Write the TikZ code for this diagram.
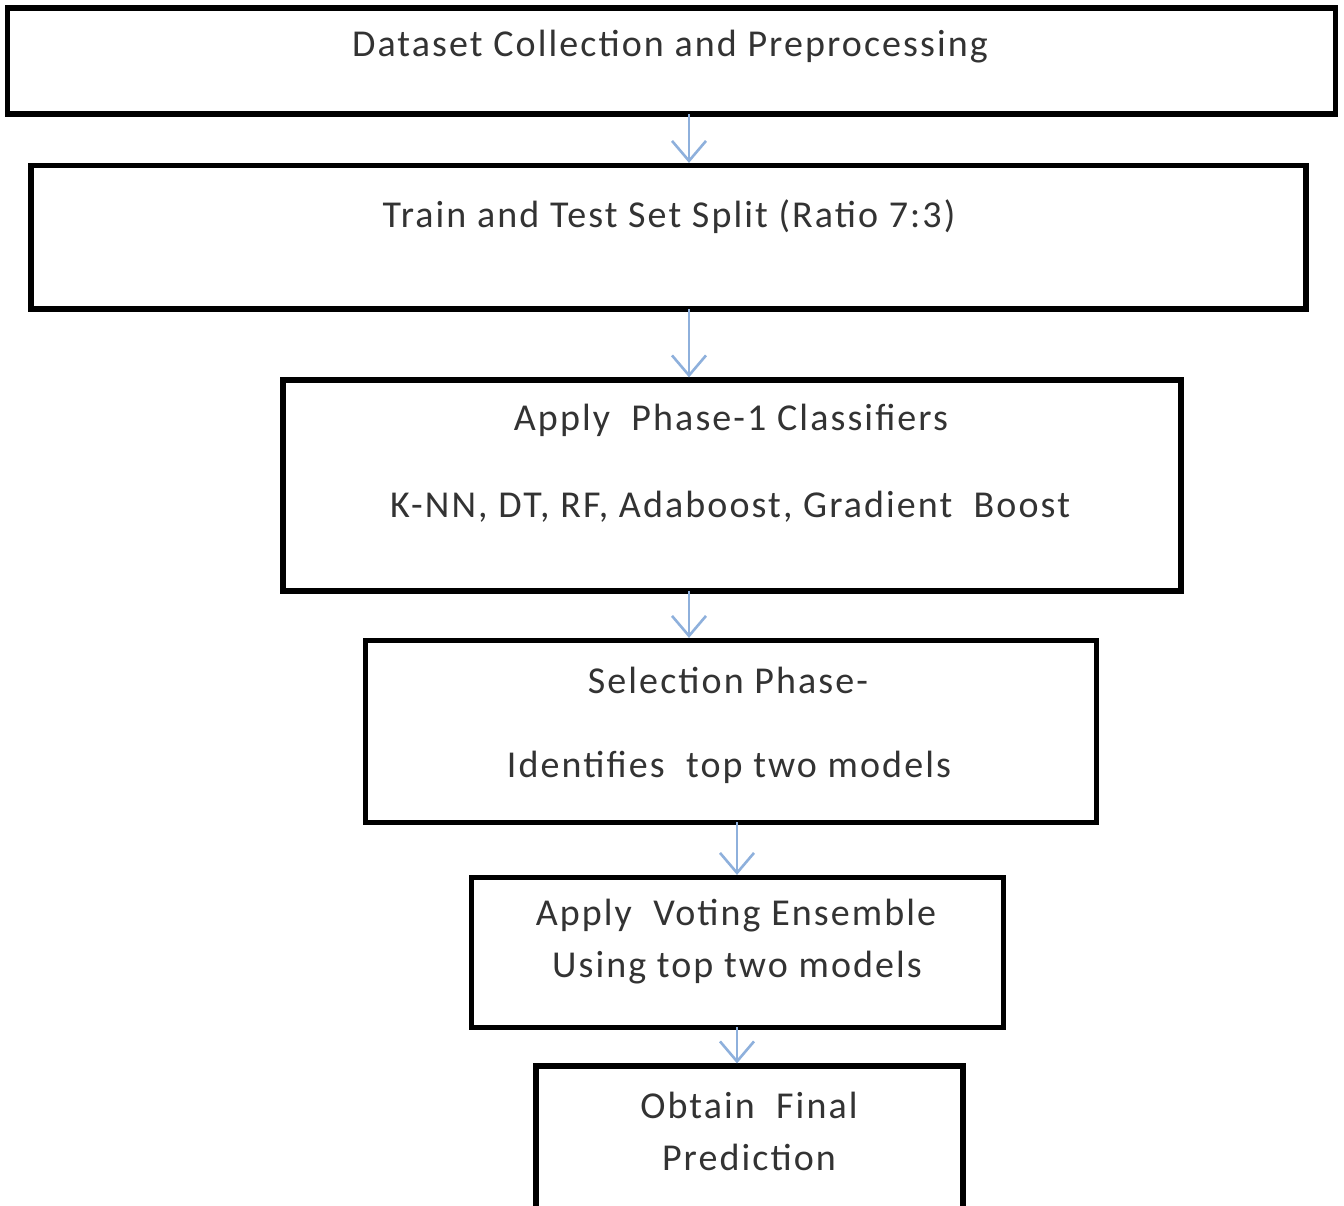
\documentclass[tikz,border=0pt]{standalone}
\usepackage{fontspec}
\setmainfont{Carlito}
\usetikzlibrary{arrows.meta}
\definecolor{txt}{HTML}{333333}
\definecolor{arr}{HTML}{8EB0DC}
\newfontfamily\boxfont[LetterSpace=5.5]{Carlito}
\tikzset{
  stepbox/.style={draw=black, line width=2.6pt, fill=white, inner sep=0pt},
  label text/.style={text=txt, font=\boxfont\fontsize{19pt}{23pt}\selectfont, inner sep=0pt, anchor=center},
  flow/.style={draw=arr, line width=1.3pt, -{Straight Barb[length=10pt,width=17pt,line width=1.3pt]}}
}
\begin{document}
\begin{tikzpicture}[x=0.5pt,y=-0.5pt]
\useasboundingbox (0,0) rectangle (1344,1205);
\fill[white] (0,0) rectangle (1344,1205);
% boxes
\node[stepbox, minimum width=1328*0.5pt, minimum height=106*0.5pt] (b1) at (671.5,61) {};
\node[stepbox, minimum width=1275*0.5pt, minimum height=143.5*0.5pt] (b2) at (668.5,237.25) {};
\node[stepbox, minimum width=898*0.5pt, minimum height=211*0.5pt] (b3) at (732,485.5) {};
\node[stepbox, minimum width=731*0.5pt, minimum height=182*0.5pt] (b4) at (731,731.5) {};
\node[stepbox, minimum width=532*0.5pt, minimum height=150*0.5pt] (b5) at (737.5,952.5) {};
\node[stepbox, minimum width=427*0.5pt, minimum height=200*0.5pt] (b6) at (749.5,1166) {};
% texts
\node[label text] (t1) at (670,47) {Dataset Collection and Preprocessing};
\node[label text] (t2) at (669,217) {Train and Test Set Split (Ratio 7:3)};
\node[label text] (t3a) at (731,420) {Apply\ \ Phase-1 Classifiers};
\node[label text] (t3b) at (730,507) {K-NN, DT, RF, Adaboost, Gradient\ \ Boost};
\node[label text] (t4a) at (728,680) {Selection Phase-};
\node[label text] (t4b) at (729,767) {Identifies\ \ top two models};
\node[label text] (t5a) at (736,916) {Apply\ \ Voting Ensemble};
\node[label text] (t5b) at (737,968) {Using top two models};
\node[label text] (t6a) at (749,1105) {Obtain\ \ Final};
\node[label text] (t6b) at (749,1157) {Prediction};
% connectors
\coordinate (a1) at (689,114);
\coordinate (a2) at (689,309);
\coordinate (a3) at (689,591);
\coordinate (a4) at (737,822);
\coordinate (a5) at (737,1027);
\draw[flow] (a1) -- (a1 |- b2.north);
\draw[flow] (a2) -- (a2 |- b3.north);
\draw[flow] (a3) -- (a3 |- b4.north);
\draw[flow] (a4) -- (a4 |- b5.north);
\draw[flow] (a5) -- (a5 |- b6.north);
\end{tikzpicture}
\end{document}
